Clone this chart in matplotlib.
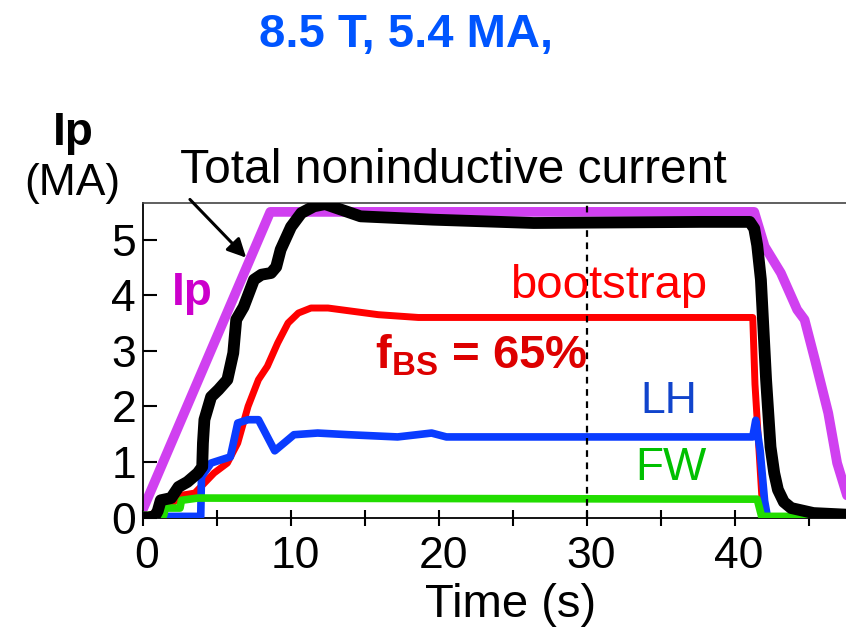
import matplotlib
matplotlib.use("Agg")
import matplotlib.pyplot as plt
from matplotlib.ticker import MultipleLocator
import matplotlib.transforms as mtransforms

plt.rcParams['font.family'] = ['Liberation Sans', 'DejaVu Sans']
plt.rcParams['mathtext.fontset'] = 'custom'
plt.rcParams['mathtext.rm'] = 'Liberation Sans'
plt.rcParams['mathtext.bf'] = 'Liberation Sans:bold'
plt.rcParams['mathtext.it'] = 'Liberation Sans:italic'

# ---- data (time in s, current in MA) ----
t_ip = [0, 8.6, 41.3, 42.0, 43.1, 44.2, 44.7, 45.4, 46.3, 46.9, 47.6]
ip = [0.15, 5.5, 5.5, 4.88, 4.40, 3.74, 3.56, 2.84, 1.88, 0.98, 0.37]

t_ni = [0, 0.35, 0.8, 1.0, 1.2, 1.9, 2.4, 3.0, 3.7, 4.0, 4.05, 4.15, 4.6,
        5.1, 5.7, 6.1, 6.3, 6.8, 7.5, 8.0, 8.65, 9.0, 9.3, 10.0, 10.7,
        11.55, 12.3, 14.7, 19.6, 26.4, 37.7, 41.0, 41.3, 41.5, 41.75, 42.1,
        42.4, 42.65, 42.9, 43.3, 43.8, 45.3, 47.6]
ni = [0.0, 0.0, 0.02, 0.12, 0.31, 0.35, 0.55, 0.64, 0.8, 0.91, 1.34, 1.76,
      2.17, 2.3, 2.48, 2.96, 3.56, 3.79, 4.28, 4.37, 4.4, 4.51, 4.82, 5.23,
      5.48, 5.6, 5.64, 5.42, 5.36, 5.3, 5.32, 5.32, 5.2, 4.9, 4.28, 2.48,
      1.27, 0.8, 0.5, 0.28, 0.17, 0.08, 0.05]

t_bs = [0, 1.5, 2.6, 3.5, 4.8, 5.7, 6.4, 7.1, 7.8, 8.4, 9.1, 9.8, 10.5,
        11.35, 12.5, 15.9, 18.6, 41.2, 41.35, 41.9, 47.6]
bs = [0, 0.15, 0.4, 0.44, 0.8, 0.98, 1.34, 2.0, 2.48, 2.72, 3.14, 3.5, 3.68,
      3.77, 3.77, 3.65, 3.6, 3.6, 2.4, 0.0, 0.0]

t_lh = [0, 3.9, 3.95, 4.6, 5.3, 5.9, 6.4, 7.1, 7.8, 8.9, 9.8, 10.2, 11.8,
        13.9, 17.2, 19.5, 20.5, 41.2, 41.4, 41.7, 42.0, 42.2, 47.6]
lh = [0.02, 0.02, 0.73, 0.98, 1.04, 1.09, 1.7, 1.76, 1.76, 1.2, 1.4, 1.49,
      1.52, 1.49, 1.45, 1.52, 1.45, 1.45, 1.75, 1.2, 0.3, 0.0, 0.0]

t_fw = [0, 1.4, 1.5, 2.5, 2.6, 3.7, 41.5, 41.8, 47.6]
fw = [0.04, 0.04, 0.17, 0.17, 0.31, 0.35, 0.33, 0.02, 0.02]

x_ticks = [0, 10, 20, 30, 40]
y_ticks = [0, 1, 2, 3, 4, 5]

W, H = 846, 637
fig = plt.figure(figsize=(W / 100, H / 100), dpi=100)

x0_px, x1_px, ytop_px, ybot_px = 143, 846, 203, 517.5
ax = fig.add_axes([x0_px / W, 1 - ybot_px / H, (x1_px - x0_px) / W,
                   (ybot_px - ytop_px) / H])
ax.set_xlim(0, 47.5)
ax.set_ylim(0, 5.66)

kw = dict(solid_joinstyle='round', solid_capstyle='round')
ax.plot(t_ip, ip, color='#d040f0', lw=7, zorder=2, **kw)
ax.plot(t_bs, bs, color='#ff0000', lw=5, zorder=3, **kw)
ax.plot(t_lh, lh, color='#0a3cff', lw=5.5, zorder=4, **kw)
ax.plot(t_fw, fw, color='#22dd00', lw=5.5, zorder=5, **kw)
ax.plot(t_ni, ni, color='black', lw=8.5, zorder=6, **kw)

ax.axvline(30, color='black', lw=1.6, ls=(0, (3, 2.5)), zorder=7)

ax.spines['right'].set_visible(False)
ax.spines['top'].set_color('#444444')
ax.spines['top'].set_linewidth(1.2)
ax.spines['left'].set_linewidth(1.3)
ax.spines['bottom'].set_linewidth(1.3)

ax.set_xticks(x_ticks)
ax.set_yticks(y_ticks)
ax.xaxis.set_minor_locator(MultipleLocator(5))
ax.tick_params(axis='y', direction='in', length=10, width=1.5, labelsize=32,
               pad=5)
ax.tick_params(axis='x', which='both', direction='inout', length=11,
               width=1.5, labelsize=32, pad=8)
ax.tick_params(axis='x', which='minor', labelbottom=False)

shift = mtransforms.ScaledTranslation(4 / 100, 0, fig.dpi_scale_trans)
for lab in ax.get_xticklabels():
    lab.set_transform(lab.get_transform() + shift)


def ftxt(x, y, s, **k):
    fig.text(x / W, 1 - y / H, s, va='baseline', **k)


ftxt(406, 47, '8.5 T, 5.4 MA,', ha='center', fontsize=34, color='#0055ff',
     fontweight='bold')
ftxt(73, 145, 'Ip', ha='center', fontsize=33, fontweight='bold')
ftxt(72, 195, '(MA)', ha='center', fontsize=32)
ftxt(180, 183, 'Total noninductive current', ha='left', fontsize=34.5)
ftxt(511, 617, 'Time (s)', ha='center', fontsize=34)
ftxt(172, 305, 'Ip', ha='left', fontsize=33, fontweight='bold',
     color='#cc00cc')
ftxt(510, 298, 'bootstrap', ha='left', fontsize=34, color='#ff0000')
ftxt(375, 368, r'$\mathbf{f_{BS}}$ = 65%', ha='left', fontsize=34,
     fontweight='bold', color='#dd0000')
ftxt(640, 413, 'LH', ha='left', fontsize=32, color='#1144cc')
ftxt(635, 480, 'FW', ha='left', fontsize=33, color='#00c000')

ax.annotate('', xy=(7.1, 4.64), xytext=(3.04, 5.76),
            arrowprops=dict(arrowstyle='-|>', lw=2.2, color='black',
                            mutation_scale=28),
            annotation_clip=False, zorder=8)

fig.savefig('out.png', dpi=100)
